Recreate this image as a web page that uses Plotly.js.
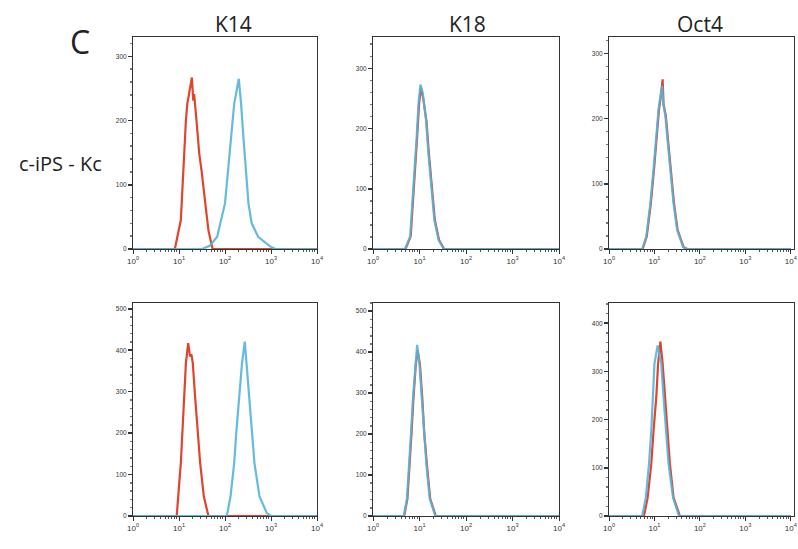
<!DOCTYPE html>
<html>
<head>
<meta charset="utf-8">
<script src="https://cdn.plot.ly/plotly-3.0.1.min.js"></script>
<style>html,body{margin:0;padding:0;background:#fff;}#chart{width:798px;height:549px;}</style>
</head>
<body>
<div id="chart"></div>
<script>
// ---- labels ----
const panelLetter = "C";
const columnTitles = ["K14", "K18", "Oct4"];
const rowTitle = "c-iPS - Kc";
const xTickVals = [1, 10, 100, 1000, 10000];
const xTickText = ["10<sup>0</sup>", "10<sup>1</sup>", "10<sup>2</sup>", "10<sup>3</sup>", "10<sup>4</sup>"];

// ---- data: log10(fluorescence) and cell counts ----
// Top row, K14
const k14TopRedLog = [0, 0.91, 1.04, 1.09, 1.15, 1.18, 1.28, 1.31, 1.33, 1.38, 1.44, 1.49, 1.57, 1.64, 1.73, 4];
const k14TopRedCnt = [0, 0, 45, 122, 200, 226, 267, 231, 241, 200, 149, 122, 71, 29, 0, 0];
const k14TopBlueLog = [0, 1.5, 1.67, 1.83, 2.0, 2.07, 2.13, 2.20, 2.30, 2.35, 2.40, 2.46, 2.51, 2.58, 2.72, 2.98, 3.1, 4];
const k14TopBlueCnt = [0, 0, 5, 19, 71, 122, 174, 226, 265, 226, 174, 122, 71, 40, 19, 4, 0, 0];
// Top row, K18
const k18TopRedLog = [0, 0.70, 0.81, 0.86, 0.90, 0.95, 0.99, 1.03, 1.08, 1.12, 1.15, 1.20, 1.26, 1.33, 1.42, 1.53, 4];
const k18TopRedCnt = [0, 0, 21, 76, 132, 187, 240, 268, 250, 232, 212, 160, 104, 48, 15, 0, 0];
const k18TopBlueLog = [0, 0.69, 0.80, 0.85, 0.89, 0.94, 0.98, 1.02, 1.07, 1.14, 1.19, 1.25, 1.32, 1.41, 1.52, 4];
const k18TopBlueCnt = [0, 0, 21, 76, 132, 187, 243, 273, 259, 215, 160, 104, 48, 15, 0, 0];
// Top row, Oct4
const oct4TopRedLog = [0, 0.74, 0.83, 0.92, 0.99, 1.05, 1.10, 1.14, 1.18, 1.20, 1.25, 1.29, 1.36, 1.43, 1.51, 1.64, 1.72, 4];
const oct4TopRedCnt = [0, 0, 19, 70, 122, 173, 214, 234, 260, 222, 204, 173, 122, 70, 29, 3, 0, 0];
const oct4TopBlueLog = [0, 0.73, 0.82, 0.91, 0.98, 1.04, 1.09, 1.13, 1.17, 1.19, 1.24, 1.28, 1.35, 1.42, 1.50, 1.63, 1.71, 4];
const oct4TopBlueCnt = [0, 0, 19, 70, 122, 173, 214, 234, 250, 224, 204, 173, 122, 70, 29, 3, 0, 0];
// Bottom row, K14
const k14BotRedLog = [0, 0.95, 1.04, 1.11, 1.15, 1.20, 1.24, 1.27, 1.30, 1.35, 1.41, 1.46, 1.54, 1.64, 4];
const k14BotRedCnt = [0, 0, 128, 288, 369, 417, 385, 390, 369, 288, 208, 128, 47, 0, 0];
const k14BotBlueLog = [0, 2.04, 2.12, 2.20, 2.25, 2.31, 2.37, 2.43, 2.47, 2.53, 2.58, 2.64, 2.75, 2.91, 3.0, 4];
const k14BotBlueCnt = [0, 0, 47, 128, 208, 288, 369, 421, 369, 288, 208, 128, 47, 7, 0, 0];
// Bottom row, K18
const k18BotRedLog = [0, 0.67, 0.74, 0.79, 0.83, 0.87, 0.92, 0.96, 1.01, 1.06, 1.10, 1.16, 1.23, 1.35, 4];
const k18BotRedCnt = [0, 0, 42, 124, 206, 288, 369, 405, 369, 288, 206, 124, 42, 0, 0];
const k18BotBlueLog = [0, 0.66, 0.73, 0.78, 0.82, 0.86, 0.91, 0.95, 1.00, 1.05, 1.09, 1.15, 1.22, 1.34, 4];
const k18BotBlueCnt = [0, 0, 42, 124, 206, 288, 369, 418, 369, 288, 206, 124, 42, 0, 0];
// Bottom row, Oct4
const oct4BotRedLog = [0, 0.77, 0.85, 0.93, 0.98, 1.04, 1.08, 1.13, 1.18, 1.23, 1.28, 1.34, 1.42, 1.56, 4];
const oct4BotRedCnt = [0, 0, 38, 108, 177, 246, 316, 362, 316, 246, 177, 108, 38, 0, 0];
const oct4BotBlueLog = [0, 0.73, 0.81, 0.88, 0.93, 0.96, 1.00, 1.07, 1.15, 1.20, 1.26, 1.31, 1.41, 1.54, 4];
const oct4BotBlueCnt = [0, 0, 38, 108, 177, 246, 316, 354, 316, 246, 177, 108, 38, 0, 0];

// y ranges and tick values per panel
const yRanges = [[0, 330], [0, 352], [0, 325], [0, 514], [0, 520], [0, 442]];
const xRanges = [[0, 4], [0, 4], [0, 4.07], [0, 4], [0, 4], [0, 4.07]];
const yTicksTop = [0, 100, 200, 300];
const yTicksBotA = [0, 100, 200, 300, 400, 500];
const yTicksBotC = [0, 100, 200, 300, 400];

const RED = "#e2432c";
const BLUE = "#53b4dc";

const panels = [
  {red: [k14TopRedLog, k14TopRedCnt], blue: [k14TopBlueLog, k14TopBlueCnt], yt: yTicksTop},
  {red: [k18TopRedLog, k18TopRedCnt], blue: [k18TopBlueLog, k18TopBlueCnt], yt: yTicksTop},
  {red: [oct4TopRedLog, oct4TopRedCnt], blue: [oct4TopBlueLog, oct4TopBlueCnt], yt: yTicksTop},
  {red: [k14BotRedLog, k14BotRedCnt], blue: [k14BotBlueLog, k14BotBlueCnt], yt: yTicksBotA},
  {red: [k18BotRedLog, k18BotRedCnt], blue: [k18BotBlueLog, k18BotBlueCnt], yt: yTicksBotA},
  {red: [oct4BotRedLog, oct4BotRedCnt], blue: [oct4BotBlueLog, oct4BotBlueCnt], yt: yTicksBotC}
];

const W = 798, H = 549;
const colPx = [[133, 317], [373, 559], [609, 794]];
const rowPx = [[37, 249], [303, 516]];

const traces = [];
const layout = {
  width: W, height: H,
  margin: {l: 0, r: 0, t: 0, b: 0},
  paper_bgcolor: "#fff", plot_bgcolor: "#fff",
  showlegend: false,
  font: {family: "Open Sans, Noto Sans, sans-serif", color: "#222"},
  annotations: []
};

panels.forEach((p, i) => {
  const r = Math.floor(i / 3), c = i % 3;
  const n = i + 1;
  const xa = "x" + (n === 1 ? "" : n), ya = "y" + (n === 1 ? "" : n);
  const toX = arr => arr.map(v => Math.pow(10, v));
  traces.push({type: "scatter", mode: "lines", x: toX(p.red[0]), y: p.red[1], xaxis: xa, yaxis: ya,
    line: {color: RED, width: 2.2}, hoverinfo: "skip"});
  traces.push({type: "scatter", mode: "lines", x: toX(p.blue[0]), y: p.blue[1], xaxis: xa, yaxis: ya,
    line: {color: BLUE, width: 2.2}, opacity: 0.9, hoverinfo: "skip"});
  const xk = "xaxis" + (n === 1 ? "" : n), yk = "yaxis" + (n === 1 ? "" : n);
  layout[xk] = {
    type: "log", domain: [colPx[c][0] / W, colPx[c][1] / W], range: xRanges[i],
    anchor: ya, showline: true, mirror: true, linecolor: "#333", linewidth: 1,
    ticks: "outside", ticklen: 4, tickcolor: "#333", tickwidth: 1,
    tickmode: "array", tickvals: xTickVals, ticktext: xTickText,
    ticklabeloverflow: "allow",
    tickfont: {size: 8, color: "#333", family: "Liberation Sans, Arial, sans-serif"},
    minor: {ticks: "outside", ticklen: 2, tickcolor: "#555", dtick: "D1", showgrid: false},
    showgrid: false, zeroline: false, fixedrange: true
  };
  layout[yk] = {
    domain: [1 - rowPx[r][1] / H, 1 - rowPx[r][0] / H], range: yRanges[i],
    anchor: xa, showline: true, mirror: true, linecolor: "#333", linewidth: 1,
    ticks: "outside", ticklen: 4, tickcolor: "#333", tickwidth: 1.5,
    tickmode: "array", tickvals: p.yt,
    tickfont: {size: 6.5, color: "#333", family: "Liberation Sans, Arial, sans-serif"},
    minor: {ticks: "outside", ticklen: 2, tickcolor: "#777", dtick: 20, showgrid: false},
    showgrid: false, zeroline: false, fixedrange: true
  };
});

// titles
const titleX = [233, 467, 700];
columnTitles.forEach((t, c) => {
  layout.annotations.push({text: t, x: titleX[c] / W, y: 1 - 24 / H, xref: "paper", yref: "paper",
    xanchor: "center", yanchor: "middle", showarrow: false, font: {size: 21, color: "#222"}});
});
layout.annotations.push({text: panelLetter, x: 80 / W, y: 1 - 42 / H, xref: "paper", yref: "paper",
  xanchor: "center", yanchor: "middle", showarrow: false, font: {size: 32, color: "#222"}});
layout.annotations.push({text: rowTitle, x: 60 / W, y: 1 - 163 / H, xref: "paper", yref: "paper",
  xanchor: "center", yanchor: "middle", showarrow: false, font: {size: 20, color: "#222"}});

Plotly.newPlot("chart", traces, layout, {staticPlot: true, displayModeBar: false});
</script>
</body>
</html>
